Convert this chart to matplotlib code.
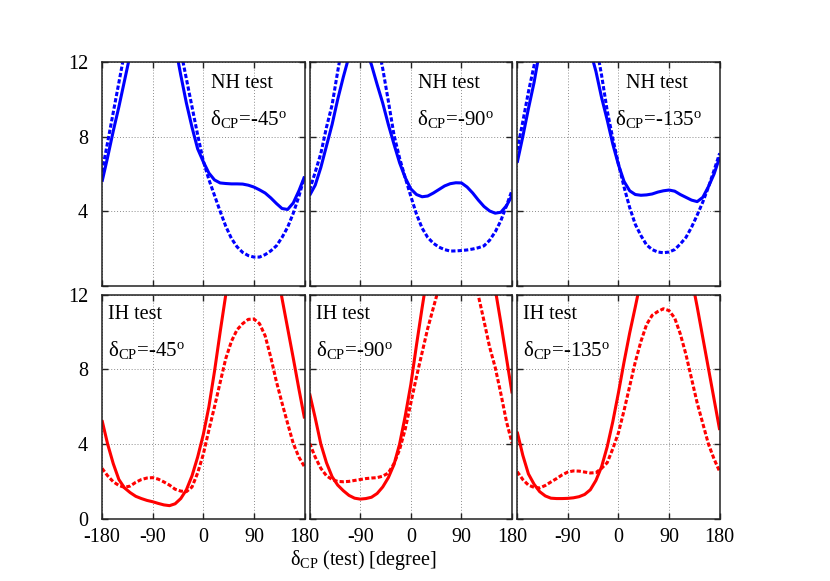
import numpy as np
import matplotlib
matplotlib.use('Agg')
import matplotlib.pyplot as plt

plt.rcParams['font.family'] = ['Liberation Serif', 'DejaVu Serif']
plt.rcParams['mathtext.fontset'] = 'custom'
plt.rcParams['mathtext.rm'] = 'Liberation Serif'
plt.rcParams['mathtext.it'] = 'Liberation Serif:italic'
plt.rcParams['axes.unicode_minus'] = False

# delta_CP (test) grid, degrees
dcp_test = np.arange(-180, 181, 10)

# NH test, upper row
nh45_solid = [5.58, 6.9, 8.3, 9.6, 11.0, 12.4, 13.7, 14.8, 15.5, 15.8, 15.6, 15.0, 14.1,
              12.9, 11.3, 9.8, 8.5, 7.35, 6.66, 6.05, 5.68, 5.52, 5.49, 5.47, 5.47, 5.46,
              5.4, 5.3, 5.15, 4.98, 4.72, 4.42, 4.15, 4.1, 4.45, 5.1, 5.86]
nh45_dash = [6.12, 7.7, 9.3, 10.9, 12.5, 14.0, 15.3, 16.2, 16.8, 17.0, 16.8, 16.1, 15.0,
             13.8, 12.6, 11.1, 9.6, 8.1, 6.7, 5.7, 4.85, 4.0, 3.2, 2.55, 2.1, 1.8,
             1.63, 1.55, 1.55, 1.68, 1.88, 2.15, 2.6, 3.15, 3.9, 4.8, 5.86]
nh90_solid = [4.85, 5.4, 6.35, 7.5, 8.65, 10.0, 11.2, 12.3, 12.9, 13.0, 12.7, 11.85, 10.8,
              9.8, 8.65, 7.6, 6.6, 5.8, 5.2, 4.9, 4.78, 4.82, 4.98, 5.17, 5.36, 5.48,
              5.53, 5.52, 5.3, 4.98, 4.6, 4.26, 4.02, 3.9, 3.95, 4.3, 4.85]
nh90_dash = [5.14, 6.1, 7.1, 8.5, 9.7, 11.5, 13.2, 14.4, 15.1, 15.3, 15.0, 14.2, 13.1,
             11.65, 9.9, 8.1, 6.85, 5.8, 4.8, 3.85, 3.1, 2.6, 2.29, 2.08, 1.95, 1.87,
             1.88, 1.9, 1.93, 1.98, 2.05, 2.15, 2.45, 2.9, 3.5, 4.3, 5.14]
nh135_solid = [6.6, 8.0, 9.5, 10.9, 12.6, 13.8, 14.7, 15.2, 15.4, 15.3, 15.0, 14.3, 13.5,
               12.6, 11.5, 10.1, 8.9, 7.6, 6.5, 5.6, 5.1, 4.9, 4.86, 4.88, 4.93, 5.03,
               5.1, 5.14, 5.08, 4.9, 4.75, 4.6, 4.52, 4.75, 5.32, 6.0, 6.9]
nh135_dash = [7.28, 8.8, 10.4, 11.8, 13.3, 14.5, 15.4, 16.0, 16.3, 16.4, 16.2, 15.8, 15.1,
              14.2, 12.95, 11.3, 9.4, 7.9, 6.55, 5.3, 4.2, 3.3, 2.7, 2.2, 1.95, 1.82,
              1.78, 1.82, 1.95, 2.25, 2.6, 3.15, 3.8, 4.5, 5.3, 6.2, 7.11]

# IH test, lower row
ih45_solid = [5.28, 4.0, 2.95, 2.1, 1.65, 1.4, 1.2, 1.08, 0.98, 0.91, 0.82, 0.74, 0.70,
              0.8, 1.08, 1.55, 2.3, 3.3, 4.5, 6.0, 7.9, 10.0, 12.0, 13.8, 15.2, 16.2,
              16.8, 17.0, 16.8, 16.2, 15.0, 13.5, 11.8, 10.2, 8.6, 6.95, 5.37]
ih45_dash = [2.7, 2.3, 1.98, 1.78, 1.68, 1.75, 1.95, 2.1, 2.18, 2.2, 2.12, 1.97, 1.8,
             1.58, 1.48, 1.45, 1.7, 2.45, 3.45, 4.75, 6.0, 7.3, 8.58, 9.5, 10.12, 10.45,
             10.68, 10.7, 10.45, 9.8, 8.65, 7.35, 6.2, 5.1, 4.03, 3.3, 2.78]
ih90_solid = [6.71, 5.4, 4.0, 3.0, 2.25, 1.8, 1.5, 1.25, 1.1, 1.05, 1.08, 1.15, 1.35,
              1.7, 2.2, 2.9, 4.0, 5.5, 7.2, 9.3, 11.3, 13.2, 15.0, 16.3, 17.2, 17.8,
              18.0, 18.0, 17.8, 17.2, 16.2, 15.0, 13.7, 12.3, 10.5, 8.6, 6.71]
ih90_dash = [4.04, 3.3, 2.7, 2.3, 2.1, 2.0, 1.98, 2.0, 2.05, 2.1, 2.15, 2.18, 2.2,
             2.28, 2.45, 2.95, 3.7, 4.8, 6.2, 7.6, 8.9, 10.2, 11.3, 12.4, 13.3, 13.8,
             14.0, 13.9, 13.5, 12.9, 11.95, 10.6, 9.2, 8.1, 6.7, 5.2, 4.04]
ih135_solid = [4.66, 3.4, 2.4, 1.85, 1.45, 1.22, 1.1, 1.08, 1.08, 1.09, 1.12, 1.18, 1.3,
               1.55, 2.05, 2.78, 3.85, 5.2, 6.75, 8.4, 9.95, 11.35, 12.8, 14.3, 15.5, 16.3,
               16.7, 16.7, 16.2, 15.3, 14.2, 12.9, 11.35, 9.7, 8.05, 6.4, 4.75]
ih135_dash = [2.52, 2.1, 1.8, 1.68, 1.65, 1.78, 1.97, 2.15, 2.35, 2.5, 2.56, 2.55, 2.5,
              2.45, 2.47, 2.7, 3.0, 3.75, 4.6, 5.8, 7.1, 8.4, 9.5, 10.4, 10.9, 11.1,
              11.25, 11.15, 10.75, 9.9, 8.8, 7.5, 6.2, 5.1, 4.0, 3.2, 2.52]

true_dcp = ['-45', '-90', '-135']
row_solid = [[nh45_solid, nh90_solid, nh135_solid], [ih45_solid, ih90_solid, ih135_solid]]
row_dash = [[nh45_dash, nh90_dash, nh135_dash], [ih45_dash, ih90_dash, ih135_dash]]
row_colour = ['#0000ff', '#ff0000']
row_name = ['NH test', 'IH test']

xticks = [-180, -90, 0, 90, 180]
yticks = [0, 4, 8, 12]

fig, axes = plt.subplots(2, 3, figsize=(8.3, 5.81), dpi=100)
fig.subplots_adjust(left=0.1229, right=0.8671, top=0.8933, bottom=0.1072,
                    wspace=0.025, hspace=0.039)

for r in range(2):
    for c in range(3):
        ax = axes[r, c]
        col = row_colour[r]
        ax.plot(dcp_test, row_solid[r][c], color=col, lw=2.2, solid_capstyle='butt',
                solid_joinstyle='round')
        ax.plot(dcp_test, row_dash[r][c], color=col, lw=2.2, linestyle=(0, (1.4, 0.7)))
        ax.set_xlim(-180, 180)
        ax.set_ylim(0, 12)
        ax.set_xticks(xticks)
        ax.set_yticks(yticks)
        ax.grid(True, color='0.55', linestyle=(0, (1, 2)), lw=0.7)
        ax.tick_params(direction='in', length=4, width=1, top=True, right=True,
                       labelsize=14.5, colors='#222222', labelcolor='black')
        ax.tick_params(axis='x', pad=7)
        ax.tick_params(axis='y', pad=10)
        for sp in ax.spines.values():
            sp.set_color('#222222')
            sp.set_linewidth(1.1)

        delta_txt = 'δ$_{\\rm CP}$=' + true_dcp[c] + '$^{\\rm o}$'
        if r == 0:
            ax.text(0.842, 0.884, row_name[r], transform=ax.transAxes, ha='right',
                    va='baseline', fontsize=14.5)
            ax.text(0.912, 0.72, delta_txt, transform=ax.transAxes, ha='right',
                    va='baseline', fontsize=15)
        else:
            ax.text(0.031, 0.89, row_name[r], transform=ax.transAxes, ha='left',
                    va='baseline', fontsize=14.5)
            ax.text(0.031, 0.726, delta_txt, transform=ax.transAxes, ha='left',
                    va='baseline', fontsize=15)

        if r == 0:
            ax.set_xticklabels([])
        elif c == 0:
            ax.set_xticklabels([str(t) for t in xticks])
        else:
            ax.set_xticklabels([''] + [str(t) for t in xticks[1:]])

        if c > 0:
            ax.set_yticklabels([])
        elif r == 0:
            ax.set_yticklabels([''] + [str(t) for t in yticks[1:]])
        else:
            ax.set_yticklabels([str(t) for t in yticks])

fig.text(0.437, 0.028, 'δ$_{\\rm CP}$ (test) [degree]', ha='center', va='baseline',
         fontsize=14.5)

fig.savefig('out.png', dpi=100, facecolor='white')
